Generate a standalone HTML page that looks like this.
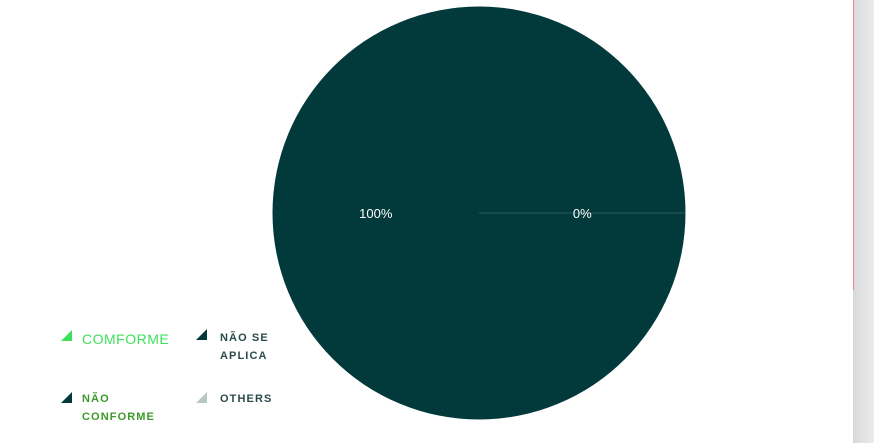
<!DOCTYPE html>
<html><head><meta charset="utf-8"><style>
body{margin:0;width:874px;height:443px;overflow:hidden;background:#fff;font-family:"Liberation Sans",sans-serif;position:relative}
.sb{position:absolute;left:853px;top:0;width:21px;height:443px;background:linear-gradient(90deg,#d8d9db,#ececec)}
.sbl{position:absolute;left:853px;top:0;width:1px;height:290px;background:#e88}
.lg{position:absolute;font-size:11px;letter-spacing:1.1px;line-height:18px;font-weight:bold}
.tri{position:absolute;width:0;height:0;border-left:11px solid transparent;border-bottom:11px solid}
</style></head><body>
<div class="sb"></div>
<div class="sbl"></div>
<svg id="chart" width="874" height="443" style="position:absolute;left:0;top:0"></svg>
<div>
<div class="tri" style="left:61px;top:330px;border-bottom-color:#3ee05a"></div>
<div class="lg" style="left:82px;top:330px;color:#3ee05a;font-weight:normal;font-size:14px;letter-spacing:0.5px">COMFORME</div>
<div class="tri" style="left:196px;top:329px;border-bottom-color:#023a3c"></div>
<div class="lg" style="left:220px;top:329px;color:#2c4a4c">NÃO SE<br>APLICA</div>
<div class="tri" style="left:61px;top:392px;border-bottom-color:#023a3c"></div>
<div class="lg" style="left:82px;top:390px;color:#3a9a2a">NÃO<br>CONFORME</div>
<div class="tri" style="left:196px;top:392px;border-bottom-color:#b8c8c8"></div>
<div class="lg" style="left:220px;top:390px;color:#2c4a4c">OTHERS</div>
</div>
<script>
const categories=["Não se aplica","Comforme"];
const values=[100,0];
const colors=["#023a3c","#3ee05a"];
const svg=document.getElementById('chart');
const cx=479,cy=213,r=206.5;
const total=values.reduce((a,b)=>a+b,0);
const NS="http://www.w3.org/2000/svg";
let a=0;
function pt(ang,rad){return [cx+rad*Math.cos(ang),cy+rad*Math.sin(ang)];}
values.forEach((v,i)=>{
  const frac=v/total, a2=a+frac*2*Math.PI;
  let el;
  if(frac>=0.9999){
    el=document.createElementNS(NS,'circle');
    el.setAttribute('cx',cx);el.setAttribute('cy',cy);el.setAttribute('r',r);
    el.setAttribute('fill',colors[i]);
  } else {
    const p1=pt(a,r),p2=pt(a2,r);
    el=document.createElementNS(NS,'path');
    el.setAttribute('d',`M${cx},${cy}L${p1[0]},${p1[1]}A${r},${r} 0 ${frac>0.5?1:0} 1 ${p2[0]},${p2[1]}Z`);
    el.setAttribute('fill',colors[i]);
    el.setAttribute('stroke','#3d6567');el.setAttribute('stroke-width','0.8');
  }
  
  
  svg.appendChild(el);
  a=a2;
});
a=0;
values.forEach((v,i)=>{
  const frac=v/total, mid=a+frac*Math.PI;
  const p=pt(mid,r*0.5);
  const t=document.createElementNS(NS,'text');
  t.setAttribute('x',p[0]);t.setAttribute('y',p[1]+5);
  t.setAttribute('text-anchor','middle');t.setAttribute('fill','#fff');
  t.setAttribute('font-size','13');t.setAttribute('font-family','Liberation Sans, sans-serif');
  t.textContent=Math.round(frac*100)+'%';
  
  
  svg.appendChild(t);
  a+=frac*2*Math.PI;
});
</script>
</body></html>
